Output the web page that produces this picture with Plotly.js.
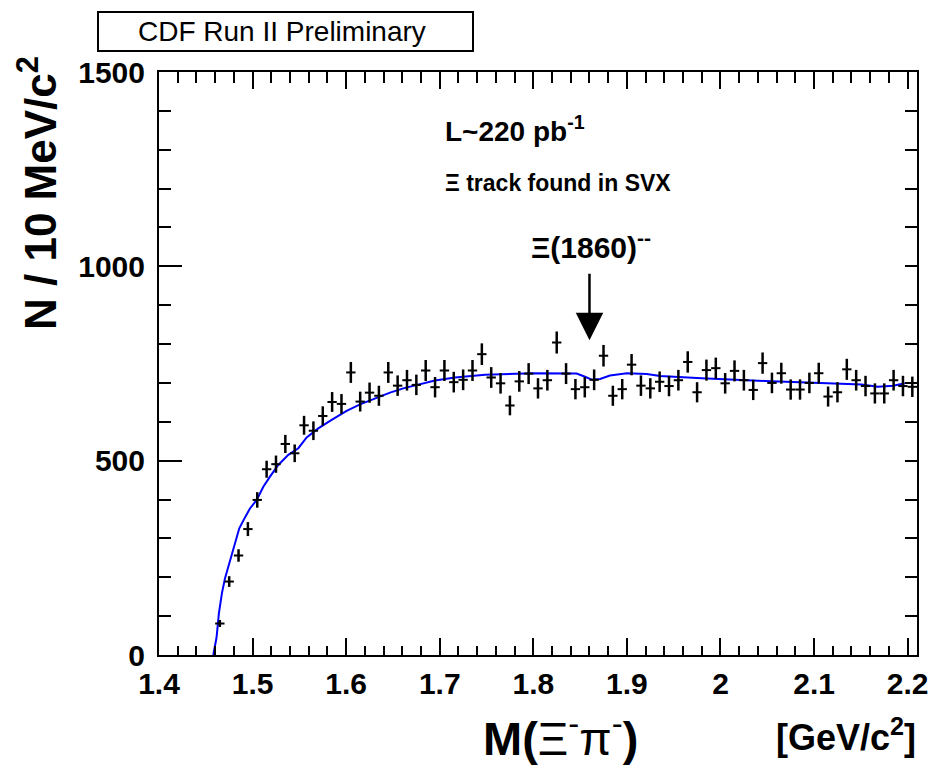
<!DOCTYPE html>
<html>
<head>
<meta charset="utf-8">
<script src="https://cdn.plot.ly/plotly-3.0.1.min.js"></script>
<style>html,body{margin:0;padding:0;background:#fff;}</style>
</head>
<body>
<div id="chart" style="width:931px;height:768px;"></div>
<script>
// Histogram: bin centres (GeV/c^2) and entries per 10 MeV/c^2
var binMass = [1.465,1.475,1.485,1.495,1.505,1.515,1.525,1.535,1.545,1.555,
  1.565,1.575,1.585,1.595,1.605,1.615,1.625,1.635,1.645,1.655,
  1.665,1.675,1.685,1.695,1.705,1.715,1.725,1.735,1.745,1.755,
  1.765,1.775,1.785,1.795,1.805,1.815,1.825,1.835,1.845,1.855,
  1.865,1.875,1.885,1.895,1.905,1.915,1.925,1.935,1.945,1.955,
  1.965,1.975,1.985,1.995,2.005,2.015,2.025,2.035,2.045,2.055,
  2.065,2.075,2.085,2.095,2.105,2.115,2.125,2.135,2.145,2.155,
  2.165,2.175,2.185,2.195,2.205];
var binCounts = [81,189,256,324,399,478,491,543,519,591,
  577,615,651,646,727,652,675,667,727,693,
  707,695,732,689,732,702,708,732,774,714,
  699,642,704,724,686,707,804,724,684,689,
  708,770,667,684,747,693,686,703,692,707,
  754,676,733,738,699,731,707,682,751,700,
  725,683,683,700,725,665,676,735,707,692,
  673,673,707,692,690];

// Fit curve
var fitMass = [1.4580,1.4615,1.4640,1.4673,1.4705,1.4740,1.4773,1.4812,1.4858,1.4919,
  1.4972,1.5044,1.5115,1.5186,1.5275,1.5382,1.5489,1.5578,1.5702,1.5845,
  1.6005,1.6148,1.6308,1.6469,1.6610,1.6682,1.6796,1.6949,1.7163,1.7484,
  1.8000,1.8463,1.8552,1.8630,1.8713,1.8819,1.9000,1.9212,1.9354,1.9800,
  2.0476,2.1000,2.1509,2.1680,2.1847,2.1970];
var fitValues = [0,45,107,160,197,227,257,292,326,354,
  377,399,433,459,489,515,532,560,583,605,
  628,645,660,675,686,690,698,706,714,721,
  725,724,716,708,710,719,725,723,718,712,
  705,700,696,690,693,699];

var binHalfWidth = 0.005;
var xTickStep = 0.1, xMinorStep = 0.02;
var yTickStep = 500, yMinorStep = 100;
var xRange = [1.4, 2.21];
var yRange = [0, 1500];
var peakMass = 1.86, arrowTip = 810, arrowTail = 985;

var FONT = 'Liberation Sans, Arial, Helvetica, sans-serif';

var dataTrace = {
  x: binMass, y: binCounts, type: 'scatter', mode: 'markers',
  marker: {size: 1, color: '#000'},
  error_y: {type: 'sqrt', visible: true, color: '#000', thickness: 2.5, width: 0},
  error_x: {type: 'constant', value: binHalfWidth, visible: true, color: '#000', thickness: 2, width: 0},
  hoverinfo: 'x+y'
};
var fitTrace = {
  x: fitMass, y: fitValues, type: 'scatter', mode: 'lines',
  line: {color: '#0000ff', width: 2}, hoverinfo: 'skip'
};
// invisible copy that carries the mirrored (top / right) frame axes
var frameTrace = {
  x: fitMass, y: fitValues, type: 'scatter', mode: 'lines', xaxis: 'x2', yaxis: 'y2',
  line: {color: 'rgba(0,0,0,0)', width: 0}, hoverinfo: 'skip'
};

// pixel -> paper helpers (plot area: x 159..917, y 72..655)
function px(p){ return (p - 159) / 758; }
function py(p){ return (655 - p) / 583; }

function xAxisBase(){
  return {
    range: xRange, tick0: 1.4, dtick: xTickStep, ticks: 'inside', ticklen: 17, tickwidth: 2,
    tickcolor: '#000', showline: true, linewidth: 2, linecolor: '#000', mirror: false,
    showgrid: false, zeroline: false,
    tickfont: {family: FONT, size: 30, color: '#000', weight: 'bold'},
    minor: {dtick: xMinorStep, tick0: 1.4, ticks: 'inside', ticklen: 9, tickwidth: 2, tickcolor: '#000', showgrid: false}
  };
}
function yAxisBase(){
  return {
    range: yRange, tick0: 0, dtick: yTickStep, ticks: 'inside', ticklen: 23, tickwidth: 2,
    tickcolor: '#000', showline: true, linewidth: 2, linecolor: '#000', mirror: false,
    showgrid: false, zeroline: false,
    tickfont: {family: FONT, size: 30, color: '#000', weight: 'bold'},
    minor: {dtick: yMinorStep, tick0: 0, ticks: 'inside', ticklen: 12, tickwidth: 2, tickcolor: '#000', showgrid: false}
  };
}
var xa = xAxisBase(); xa.ticklabelstandoff = 1;
var ya = yAxisBase(); ya.ticklabelstandoff = 6;
var xa2 = xAxisBase(); xa2.overlaying = 'x'; xa2.side = 'top'; xa2.showticklabels = false; xa2.anchor = 'y2';
xa2.minor.ticklen = 11;
var ya2 = yAxisBase(); ya2.overlaying = 'y'; ya2.side = 'right'; ya2.showticklabels = false; ya2.anchor = 'x2';
ya2.ticklen = 12;

var layout = {
  width: 931, height: 768,
  margin: {l: 159, r: 14, t: 72, b: 113, pad: 0},
  paper_bgcolor: '#fff', plot_bgcolor: '#fff',
  showlegend: false,
  font: {family: FONT, color: '#000'},
  xaxis: xa, yaxis: ya, xaxis2: xa2, yaxis2: ya2,
  shapes: [
    {type: 'rect', xref: 'paper', yref: 'paper', x0: px(98), x1: px(473), y0: py(51), y1: py(12),
     line: {color: '#000', width: 2}, fillcolor: 'rgba(0,0,0,0)'}
  ],
  annotations: [
    {xref: 'paper', yref: 'paper', x: px(282), y: py(32), xanchor: 'center', yanchor: 'middle',
     text: 'CDF Run II Preliminary', showarrow: false, font: {family: FONT, size: 28, color: '#000'}},
    {xref: 'paper', yref: 'paper', x: px(38), y: py(193), xanchor: 'center', yanchor: 'middle',
     textangle: -90, text: 'N / 10 MeV/c<sup>2</sup>', showarrow: false,
     font: {family: FONT, size: 44, color: '#000', weight: 'bold'}},
    {xref: 'paper', yref: 'paper', x: px(481), y: py(735), xanchor: 'left', yanchor: 'middle',
     text: '<b>M(</b>Ξ<sup>-</sup>π<sup>-</sup><b>)</b>', showarrow: false,
     font: {family: FONT, size: 47, color: '#000'}},
    {xref: 'paper', yref: 'paper', x: px(918), y: py(735), xanchor: 'right', yanchor: 'middle',
     text: '[GeV/c<sup>2</sup>]', showarrow: false,
     font: {family: FONT, size: 36, color: '#000', weight: 'bold'}},
    {xref: 'paper', yref: 'paper', x: px(443), y: py(129), xanchor: 'left', yanchor: 'middle',
     text: 'L~220 pb<sup>-1</sup>', showarrow: false,
     font: {family: FONT, size: 28, color: '#000', weight: 'bold'}},
    {xref: 'paper', yref: 'paper', x: px(443), y: py(183), xanchor: 'left', yanchor: 'middle',
     text: 'Ξ track found in SVX', showarrow: false,
     font: {family: FONT, size: 23, color: '#000', weight: 'bold'}},
    {xref: 'paper', yref: 'paper', x: px(529), y: py(245), xanchor: 'left', yanchor: 'middle',
     text: 'Ξ(1860)<sup>--</sup>', showarrow: false,
     font: {family: FONT, size: 30, color: '#000', weight: 'bold'}},
    {xref: 'x', yref: 'y', x: peakMass, y: arrowTip, axref: 'x', ayref: 'y', ax: peakMass, ay: arrowTail,
     text: '', showarrow: true, arrowhead: 2, arrowsize: 2.2, arrowwidth: 2.5, arrowcolor: '#000'}
  ]
};

Plotly.newPlot('chart', [fitTrace, frameTrace, dataTrace], layout, {displayModeBar: false, staticPlot: true});
</script>
</body>
</html>
